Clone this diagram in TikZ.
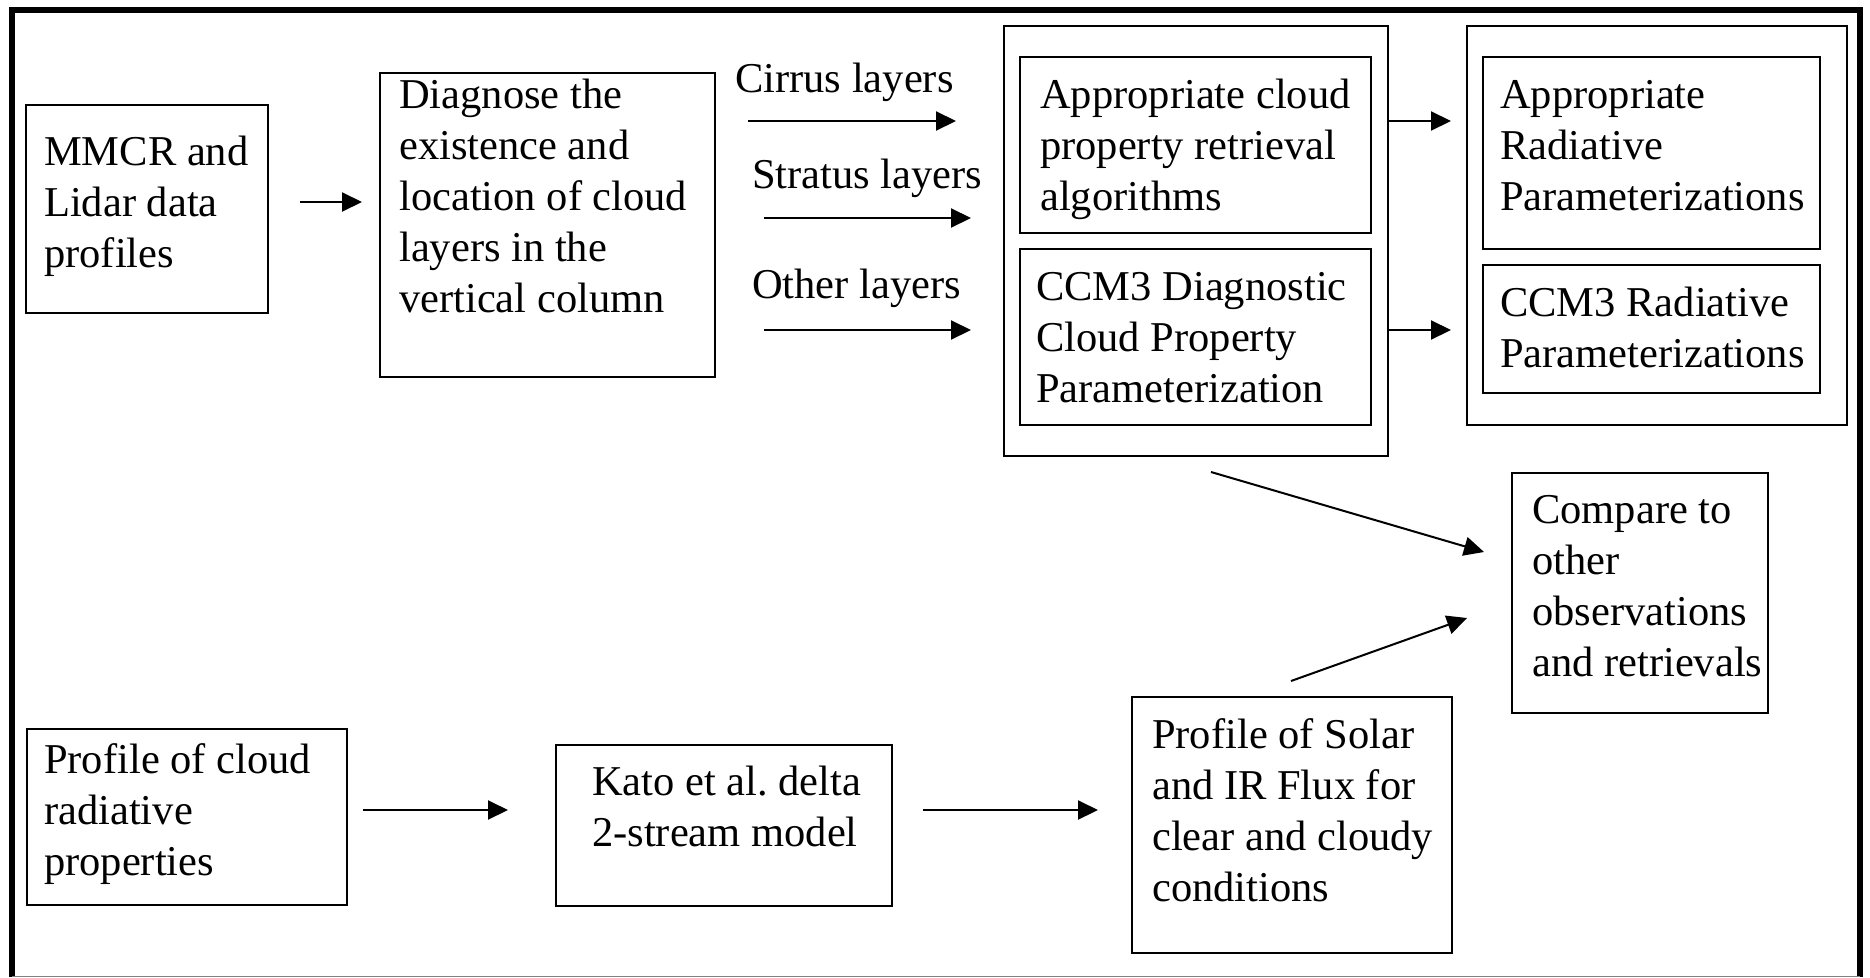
\documentclass[tikz,border=0pt]{standalone}
\usepackage{fontspec}
\setmainfont{Liberation Serif}
\usetikzlibrary{arrows.meta,fit}
\frenchspacing
\newcommand\diagfont{\fontsize{42.5}{51}\selectfont}
\newcommand\lines[1]{\parbox[t]{420pt}{#1}}
\begin{document}
\begin{tikzpicture}[x=1pt,y=-1pt,
  frame/.style={line width=5.6pt},
  box/.style={draw, line width=1.6pt, inner sep=0pt},
  txt/.style={anchor=base west, inner sep=0pt, font=\diagfont},
  arr/.style={line width=2pt, -{Triangle[length=20pt,width=19pt]}}]
\useasboundingbox (0,0) rectangle (1870,977);

% outer frame
\draw[frame] (12,977) -- (12,10) -- (1860,10) -- (1860,977);
\draw[gray, line width=1.4pt] (12,976.3) -- (1860,976.3);

% upper chain
\node[box, fit={(26,105) (268,313)}] (mmcr) {};
\node[txt] (mmcrT) at (44,165) {\lines{MMCR and\\Lidar data\\profiles}};

\node[box, fit={(380,73) (715,377)}] (diag) {};
\node[txt] (diagT) at (399,108) {\lines{Diagnose the\\existence and\\location of cloud\\layers in the\\vertical column}};

\node[txt] (cirrus) at (735,92) {Cirrus layers};
\node[txt] (stratus) at (752,188) {Stratus layers};
\node[txt] (other) at (752,298) {Other layers};

\node[box, fit={(1004,26) (1388,456)}] (g1) {};
\node[box, fit={(1020,57) (1371,233)}] (apc) {};
\node[txt] (apcT) at (1040,108) {\lines{Appropriate cloud\\property retrieval\\algorithms}};
\node[box, fit={(1020,249) (1371,425)}] (ccd) {};
\node[txt] (ccdT) at (1036,300) {\lines{CCM3 Diagnostic\\Cloud Property\\Parameterization}};

\node[box, fit={(1467,26) (1847,425)}] (g2) {};
\node[box, fit={(1483,57) (1820,249)}] (apr) {};
\node[txt] (aprT) at (1500,108) {\lines{Appropriate\\Radiative\\Parameterizations}};
\node[box, fit={(1483,265) (1820,393)}] (ccr) {};
\node[txt] (ccrT) at (1500,316) {\lines{CCM3 Radiative\\Parameterizations}};

\node[box, fit={(1512,473) (1768,713)}] (cmp) {};
\node[txt] (cmpT) at (1532,523) {\lines{Compare to\\other\\observations\\and retrievals}};

% lower chain
\node[box, fit={(27,729) (347,905)}] (pcr) {};
\node[txt] (pcrT) at (44,773) {\lines{Profile of cloud\\radiative\\properties}};
\node[box, fit={(556,745) (892,906)}] (kato) {};
\node[txt] (katoT) at (592,795) {\lines{Kato et al. delta\\2-stream model}};
\node[box, fit={(1132,697) (1452,953)}] (sol) {};
\node[txt] (solT) at (1152,748) {\lines{Profile of Solar\\and IR Flux for\\clear and cloudy\\conditions}};

% arrow end points
\coordinate (a1s) at (300,202);   \coordinate (a1e) at (362,202);
\coordinate (cis) at (748,121);   \coordinate (cie) at (956,121);
\coordinate (sts) at (764,218);   \coordinate (ste) at (971,218);
\coordinate (ots) at (764,330);   \coordinate (ote) at (971,330);
\coordinate (r1e) at (1451,121);
\coordinate (r2e) at (1451,330);
\coordinate (d1s) at (1211,472);  \coordinate (d1e) at (1484,552);
\coordinate (d2s) at (1291,681);  \coordinate (d2e) at (1467,618);
\coordinate (b1s) at (363,810);   \coordinate (b1e) at (508,810);
\coordinate (b2s) at (923,810);   \coordinate (b2e) at (1098,810);

\draw[arr] (a1s) -- (a1e);
\draw[arr] (cis) -- (cie);
\draw[arr] (sts) -- (ste);
\draw[arr] (ots) -- (ote);
\draw[arr] (g1.east |- r1e) -- (r1e);
\draw[arr] (g1.east |- r2e) -- (r2e);
\draw[arr] (d1s) -- (d1e);
\draw[arr] (d2s) -- (d2e);
\draw[arr] (b1s) -- (b1e);
\draw[arr] (b2s) -- (b2e);
\end{tikzpicture}
\end{document}
